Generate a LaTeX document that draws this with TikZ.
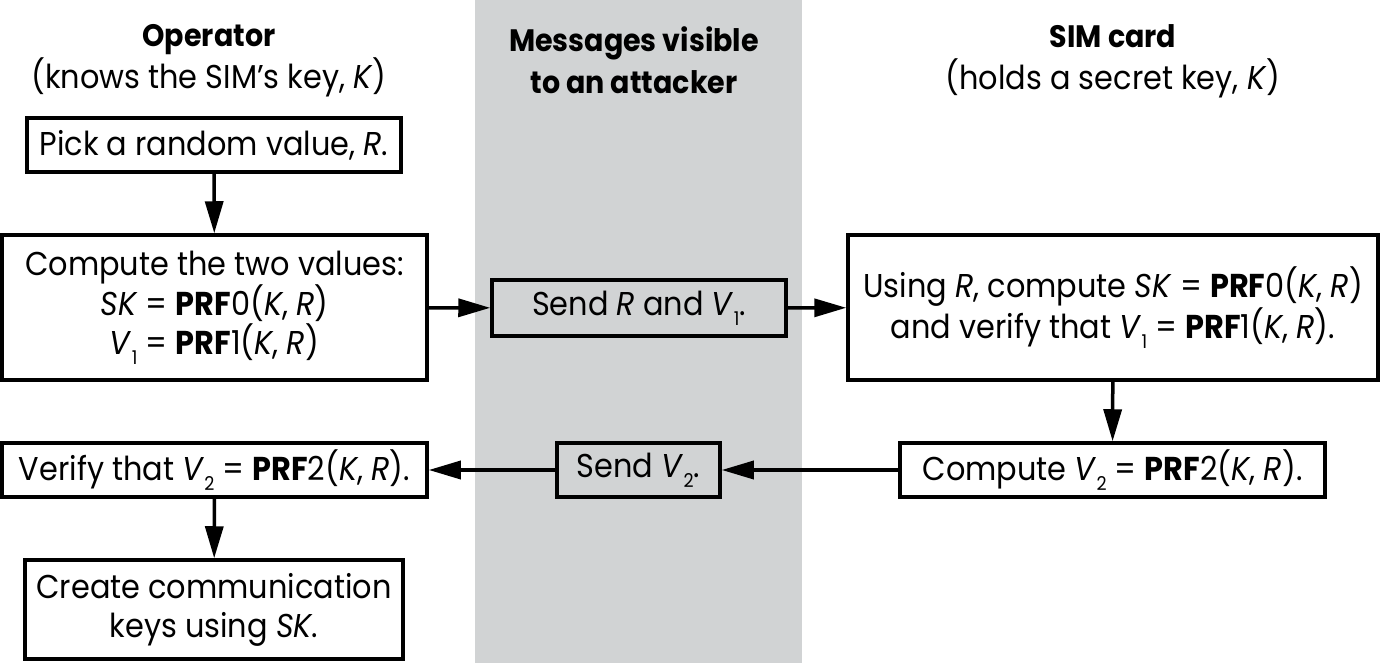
\documentclass[tikz,border=0pt]{standalone}
\usepackage{fontspec}
\setmainfont[FakeStretch=0.92]{Poppins}
\usetikzlibrary{arrows.meta}
\definecolor{band}{RGB}{209,211,212}
\newcommand{\ssub}[1]{\raisebox{-0.55ex}{\fontsize{19}{19}\selectfont #1}}
\newcommand{\hb}[1]{{\fontsize{31}{42}\selectfont\bfseries #1}}
\begin{document}
\begin{tikzpicture}[x=1pt,y=-1pt,
  box/.style={draw=black, line width=3.5pt, fill=white, align=center, inner sep=0pt,
    font=\fontsize{33}{39}\selectfont},
  msg/.style={box, fill=band},
  head/.style={align=center, inner sep=0pt, font=\fontsize{33}{42}\selectfont},
  arr/.style={-{Triangle[length=32pt,width=18pt]}, line width=3.5pt}
]
\useasboundingbox (0,0) rectangle (1381,663);
\fill[band] (475,0) rectangle (802,663);

\node[head] (hop) at (209,61) {\hb{Operator}\\(knows the SIM’s key, \textit{K})};
\node[head] (hmsg) at (634,60) {\hb{Messages visible}\\\hb{to an attacker}};
\node[head] (hsim) at (1113,61) {\hb{SIM card}\\(holds a secret key, \textit{K})};

\node[box, minimum width=374pt, minimum height=54pt] (pick) at (214,145)
  {Pick a random value, \textit{R}.};
\node[box, minimum width=425pt, minimum height=145pt] (comp) at (214.5,307.5)
  {Compute the two values:\\
   \textit{SK} = \textbf{PRF}0(\textit{K}, \textit{R})\\
   \textit{V}\ssub{1} = \textbf{PRF}1(\textit{K}, \textit{R})};
\node[msg, minimum width=294pt, minimum height=56pt] (sendr) at (639,308)
  {Send \textit{R} and \textit{V}\ssub{1}.};
\node[box, minimum width=530pt, minimum height=145pt] (sim) at (1113,307.5)
  {Using \textit{R}, compute \textit{SK} = \textbf{PRF}0(\textit{K}, \textit{R})\\
   and verify that \textit{V}\ssub{1} = \textbf{PRF}1(\textit{K}, \textit{R}).};
\node[box, minimum width=425pt, minimum height=54pt] (comp2) at (1112.5,470)
  {Compute \textit{V}\ssub{2} = \textbf{PRF}2(\textit{K}, \textit{R}).};
\node[msg, minimum width=163pt, minimum height=54pt] (sendv) at (638.5,470)
  {Send \textit{V}\ssub{2}.};
\node[box, minimum width=425pt, minimum height=54pt] (verify) at (214.5,470)
  {Verify that \textit{V}\ssub{2} = \textbf{PRF}2(\textit{K}, \textit{R}).};
\node[box, minimum width=378pt, minimum height=99pt] (create) at (214,609.5)
  {Create communication\\keys using \textit{SK}.};

\draw[arr] (pick) -- (comp);
\draw[arr] (comp) -- (sendr);
\draw[arr] (sendr) -- (sim);
\draw[arr] (sim) -- (comp2);
\draw[arr] (comp2) -- (sendv);
\draw[arr] (sendv) -- (verify);
\draw[arr] (verify) -- (create);
\end{tikzpicture}
\end{document}
